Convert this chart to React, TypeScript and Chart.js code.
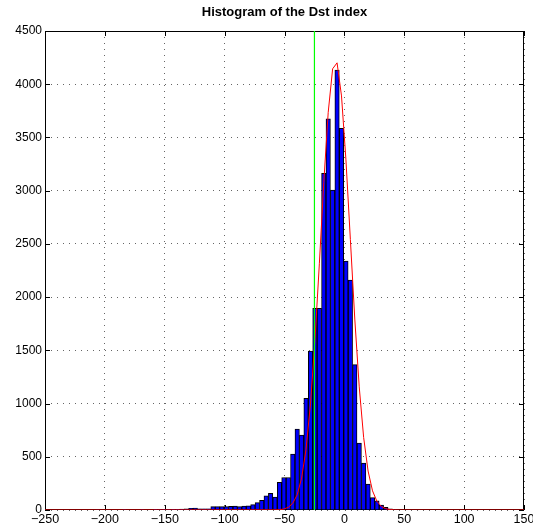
import React, { useEffect, useRef } from "react";
import { Chart, registerables } from "chart.js";

Chart.register(...registerables);

const chartTitle = "Histogram of the Dst index";

// Histogram bin centres (Dst, nT) and counts
const binCenters = [
  -205.9, -183.7, -168.9, -157.8, -154.1, -150.4, -146.7, -143.0, -139.3, -135.6,
  -131.9, -128.2, -124.5, -120.8, -117.1, -113.4, -109.7, -106.0, -102.3, -98.6,
  -94.9, -91.2, -87.5, -83.8, -80.1, -76.4, -72.7, -69.0, -65.3, -61.6,
  -57.9, -54.2, -50.5, -46.8, -43.1, -39.4, -35.7, -32.0, -28.3, -24.6,
  -20.9, -17.2, -13.5, -9.8, -6.1, -2.4, 1.3, 5.0, 8.7, 12.4,
  16.1, 19.8, 23.5, 27.2, 30.9, 34.6, 38.3, 42.0,
];
const counts = [
  5, 4, 4, 3, 4, 3, 4, 6, 6, 8,
  10, 15, 18, 12, 12, 12, 31, 31, 31, 31,
  34, 38, 31, 38, 40, 50, 70, 91, 133, 157,
  122, 260, 305, 305, 525, 761, 703, 1050, 1494, 1895,
  1895, 3163, 3676, 3006, 4134, 3586, 2339, 2161, 1366, 628,
  440, 243, 117, 85, 47, 25, 10, 5,
];

// Fitted curve (red)
const fitX = [
  -250, -57.9, -54.2, -50.5, -46.8, -43.1, -39.4, -35.7, -32.0, -28.3, -24.6,
  -20.9, -17.2, -13.5, -9.8, -6.1, -2.4, 1.3, 5.0, 8.7, 12.4,
  16.1, 19.8, 23.5, 27.2, 30.9, 34.6, 38.3, 42.0, 45.7, 150,
];
const fitY = [
  0, 1, 3, 9, 25, 63, 143, 300, 572, 998, 1590,
  2313, 3076, 3736, 4145, 4201, 3890, 3290, 2542, 1794, 1157,
  681, 366, 180, 81, 33, 12, 4, 1, 0, 0,
];

// Threshold marker (green)
const thresholdDst = -25;

const xMin = -250;
const xMax = 150;
const xStep = 50;
const yMin = 0;
const yMax = 4500;
const yStep = 500;

const FONT = '"Liberation Sans", Arial, Helvetica, sans-serif';

const framePlugin = {
  id: "matlabFrame",
  beforeDatasetsDraw(chart: any) {
    const { ctx, chartArea } = chart;
    const { left, right, top, bottom } = chartArea;
    const xs = chart.scales.x;
    const ys = chart.scales.y;
    ctx.save();
    ctx.strokeStyle = "#000";
    ctx.lineWidth = 1;
    ctx.setLineDash([]);
    ctx.strokeRect(left + 0.5, top + 0.5, right - left - 1, bottom - top - 1);
    ctx.beginPath();
    const tl = 5;
    xs.ticks.forEach((t: any) => {
      const px = Math.round(xs.getPixelForValue(t.value)) + 0.5;
      ctx.moveTo(px, bottom);
      ctx.lineTo(px, bottom - tl);
      ctx.moveTo(px, top);
      ctx.lineTo(px, top + tl);
    });
    ys.ticks.forEach((t: any) => {
      const py = Math.round(ys.getPixelForValue(t.value)) + 0.5;
      ctx.moveTo(left, py);
      ctx.lineTo(left + tl, py);
      ctx.moveTo(right, py);
      ctx.lineTo(right - tl, py);
    });
    ctx.stroke();
    ctx.restore();
  },
  afterDraw(chart: any) {
    const { ctx, chartArea } = chart;
    ctx.save();
    ctx.fillStyle = "#000";
    ctx.font = `bold 13px ${FONT}`;
    ctx.textAlign = "center";
    ctx.textBaseline = "middle";
    ctx.fillText(chartTitle, (chartArea.left + chartArea.right) / 2, 12);
    ctx.restore();
  },
};

export default function App() {
  const ref = useRef<HTMLCanvasElement | null>(null);

  useEffect(() => {
    document.body.style.margin = "0";
    const canvas = ref.current;
    if (!canvas) return;
    const chart = new Chart(canvas, {
      type: "bar",
      data: {
        datasets: [
          {
            type: "line",
            data: [
              { x: thresholdDst, y: yMin },
              { x: thresholdDst, y: yMax },
            ],
            borderColor: "#00ff00",
            borderWidth: 1.2,
            pointRadius: 0,
            order: 1,
          } as any,
          {
            type: "line",
            data: fitX.map((x, i) => ({ x, y: fitY[i] })),
            borderColor: "#ff0000",
            borderWidth: 1,
            pointRadius: 0,
            tension: 0,
            order: 2,
          } as any,
          {
            type: "bar",
            data: binCenters.map((x, i) => ({ x, y: counts[i] })),
            backgroundColor: "#0000ff",
            borderColor: "#000000",
            borderWidth: 1,
            borderSkipped: "start",
            barPercentage: 1,
            categoryPercentage: 1,
            order: 3,
          } as any,
        ],
      },
      options: {
        responsive: false,
        animation: false,
        layout: { padding: { top: 31, right: 9, left: 0, bottom: 0 } },
        plugins: {
          legend: { display: false },
          tooltip: { enabled: false },
          title: { display: false },
        },
        scales: {
          x: {
            type: "linear",
            min: xMin,
            max: xMax,
            offset: false,
            grid: {
              offset: false,
              drawTicks: false,
              color: "rgba(0,0,0,0.6)",
              lineWidth: 1,
            },
            border: { display: false, dash: [1, 5] },
            ticks: {
              stepSize: xStep,
              autoSkip: false,
              maxRotation: 0,
              padding: 2,
              color: "#000",
              font: { family: FONT, size: 12.5 },
              callback: (v: any) => (v < 0 ? "\u2212" + Math.abs(v) : String(v)),
            },
            afterFit: (s: any) => {
              s.height = 19;
              s.paddingLeft = 0;
              s.paddingRight = 0;
            },
          } as any,
          y: {
            type: "linear",
            min: yMin,
            max: yMax,
            grid: {
              drawTicks: false,
              color: "rgba(0,0,0,0.6)",
              lineWidth: 1,
            },
            border: { display: false, dash: [1, 5] },
            ticks: {
              stepSize: yStep,
              autoSkip: false,
              padding: 3,
              color: "#000",
              font: { family: FONT, size: 12 },
              callback: (v: any) => String(v),
            },
            afterFit: (s: any) => {
              s.width = 45;
              s.paddingTop = 0;
              s.paddingBottom = 0;
            },
          } as any,
        },
      },
      plugins: [framePlugin],
    });
    return () => chart.destroy();
  }, []);

  return <canvas ref={ref} width={533} height={529} style={{ display: "block" }} />;
}
